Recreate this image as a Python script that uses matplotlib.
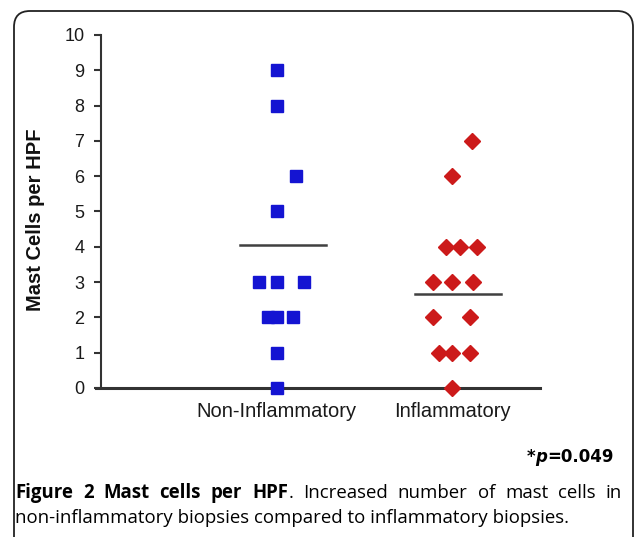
import matplotlib
matplotlib.use("Agg")
import matplotlib.pyplot as plt
from matplotlib.patches import FancyBboxPatch

# values
groups = ["Non-Inflammatory", "Inflammatory"]
non_infl_vals = [9, 8, 6, 5, 3, 3, 3, 2, 2, 2, 1, 0]
non_infl_jit = [0, 0, 0.11, 0, -0.10, 0, 0.155, -0.05, 0, 0.095, 0, 0]
infl_vals = [7, 6, 4, 4, 4, 3, 3, 3, 2, 2, 1, 1, 1, 0]
infl_jit = [0.11, 0, -0.038, 0.046, 0.14, -0.107, 0, 0.116, -0.107, 0.099, -0.073, 0, 0.099, 0]
mean_lines = [4.05, 2.67]
p_text = "=0.049"
caption_bold = ["Figure", "2", "Mast", "cells", "per", "HPF"]
caption_rest = ["Increased", "number", "of", "mast", "cells", "in"]
caption_line2 = "non-inflammatory biopsies compared to inflammatory biopsies."

W, H = 635, 537
fig = plt.figure(figsize=(W / 100, H / 100), dpi=100)
fig.patch.set_facecolor("white")

# rounded frame (pixel units / 100 = inches)
frame = FancyBboxPatch((0.14, -0.5), 6.19, 5.26 + 0.5,
                       boxstyle="round,pad=0,rounding_size=0.16",
                       transform=fig.dpi_scale_trans, fill=False,
                       edgecolor="#222222", linewidth=1.3)
fig.patches.append(frame)

ax = fig.add_axes([101 / W, 1 - 388 / H, 439 / W, 353 / H])
ax.set_xlim(0, 2.5)
ax.set_ylim(0, 10)

ax.plot([1 + j for j in non_infl_jit], non_infl_vals, "s", color="#1414d2",
        markersize=8.5, clip_on=False, zorder=4)
ax.plot([2 + j for j in infl_jit], infl_vals, "D", color="#cc1a1a",
        markersize=8, clip_on=False, zorder=4)

for i, m in enumerate(mean_lines):
    ax.plot([i + 1 - 0.21, i + 1 + 0.28], [m, m], color="#404040", lw=1.8, zorder=3)

for s in ["top", "right", "bottom"]:
    ax.spines[s].set_visible(False)
ax.spines["left"].set_linewidth(1.5)
ax.spines["left"].set_color("#333333")
ax.plot([-0.03, 2.5], [0, 0], color="#333333", lw=2.2, clip_on=False, zorder=2)

ax.set_yticks(range(0, 11))
ax.set_yticklabels([str(v) for v in range(0, 11)], family="Liberation Sans", fontsize=13)
ax.tick_params(axis="y", length=5, width=1.5, color="#333333", pad=7, labelcolor="#1a1a1a")
ax.set_xticks([1, 2])
ax.set_xticklabels(groups, family="Liberation Sans", fontsize=14.5, color="#1a1a1a")
ax.tick_params(axis="x", length=0, pad=10)
ax.set_ylabel("Mast Cells per HPF", family="Liberation Sans", fontweight="bold",
              fontsize=14.5, color="#111111")
ax.yaxis.set_label_coords(-0.128, 0.476)

# p-value note
t1 = fig.text(527 / W, 1 - 462 / H, "*", family="DejaVu Sans",
              fontweight="bold", fontsize=12, ha="left", va="baseline")
t2 = ax.annotate("p", xy=(1, 0), xycoords=t1, family="DejaVu Sans", fontweight="bold",
                 style="italic", fontsize=12, ha="left", va="bottom")
ax.annotate(p_text, xy=(1, 0), xycoords=t2, family="DejaVu Sans", fontweight="bold",
            fontsize=12, ha="left", va="bottom")

# caption, first line justified between x=15 and x=622
fig.canvas.draw()
renderer = fig.canvas.get_renderer()
cap_size = 13.4
base1 = 1 - 498 / H
words = []
for w in caption_bold:
    words.append(fig.text(0, base1, w, family="Open Sans", fontweight="bold",
                          fontsize=cap_size, va="baseline"))
words.append(fig.text(0, base1, ".", family="Open Sans", fontsize=cap_size, va="baseline"))
for w in caption_rest:
    words.append(fig.text(0, base1, w, family="Open Sans",
                          fontsize=cap_size, va="baseline"))
widths = [t.get_window_extent(renderer).width for t in words]
dot = len(caption_bold)
gap = (607 - sum(widths)) / (len(words) - 2)
x = 15
for i, t in enumerate(words):
    t.set_x(x / W)
    x += widths[i]
    if i != dot - 1:
        x += gap
fig.text(15 / W, 1 - 523 / H, caption_line2, family="Open Sans", fontsize=cap_size,
         ha="left", va="baseline")

fig.savefig("out.png", dpi=100)
